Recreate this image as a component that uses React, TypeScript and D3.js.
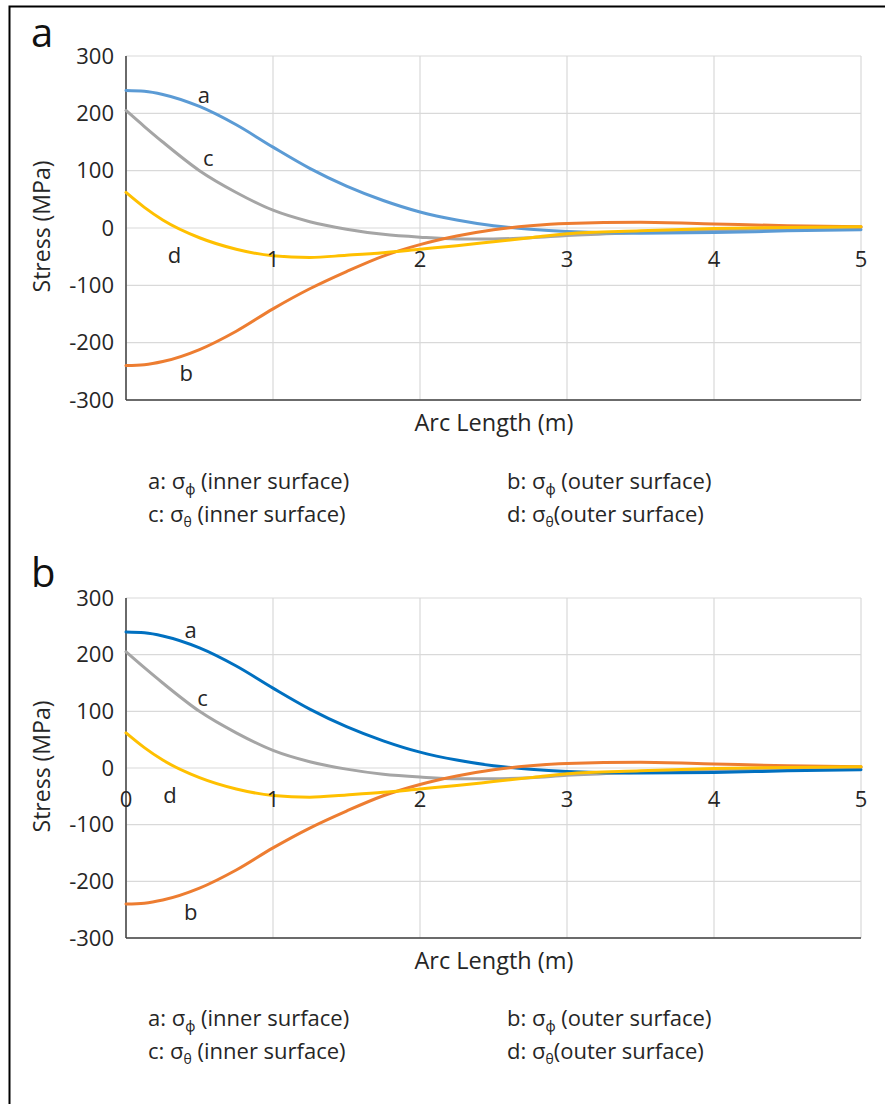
import React from 'react';
import * as d3 from 'd3';

// ---------- data ----------
const arcLength = [0, 0.125, 0.25, 0.5, 0.75, 1, 1.25, 1.5, 1.75, 2, 2.25, 2.5, 2.75, 3, 3.5, 4, 4.5, 5];
const sigmaPhiInner = [240, 238.5, 233, 212, 180, 141, 104, 73, 48, 28, 14, 4, -2, -6, -9, -8, -5, -3]; // a
const sigmaPhiOuter = [-240, -238.5, -233, -212, -180, -141, -106, -76, -49, -29, -14, -3, 4, 8, 10, 7, 4, 2]; // b
const sigmaThetaInner = [205, 177, 150, 100, 62, 31, 11, -2, -11, -16, -19, -19, -17, -13, -8, -4, -1, 1]; // c
const sigmaThetaOuter = [62, 36, 14, -17, -37, -48.5, -51.5, -47.5, -43, -37, -31, -24, -17, -10, -5, -1, 1, 2]; // d

const yTicks = [300, 200, 100, 0, -100, -200, -300];
const xGrid = [0, 1, 2, 3, 4, 5];
const xTickLabelsA = [1, 2, 3, 4, 5];
const xTickLabelsB = [0, 1, 2, 3, 4, 5];

const curveLabelsA = [
  { t: 'a', x: 0.53, y: 232 },
  { t: 'c', x: 0.56, y: 122 },
  { t: 'd', x: 0.33, y: -47 },
  { t: 'b', x: 0.41, y: -254 },
];
const curveLabelsB = [
  { t: 'a', x: 0.44, y: 243 },
  { t: 'c', x: 0.52, y: 123 },
  { t: 'd', x: 0.30, y: -48 },
  { t: 'b', x: 0.44, y: -254 },
];

const legendItems = [
  { key: 'a', sub: 'ϕ', desc: '(inner surface)' },
  { key: 'b', sub: 'ϕ', desc: '(outer surface)' },
  { key: 'c', sub: 'θ', desc: '(inner surface)' },
  { key: 'd', sub: 'θ', desc: '(outer surface)' },
];

const FONT = '"Open Sans", "Noto Sans", sans-serif';
const TXT = '#262626';

type PanelProps = {
  letter: string;
  letterBase: number;
  plotTop: number;
  plotBottom: number;
  blue: string;
  xTickLabels: number[];
  curveLabels: { t: string; x: number; y: number }[];
  titleBase: number;
  legendRow1: number;
  legendRow2: number;
};

function Panel(p: PanelProps) {
  const x = d3.scaleLinear().domain([0, 5]).range([126, 861]);
  const y = d3.scaleLinear().domain([-300, 300]).range([p.plotBottom, p.plotTop]);
  const line = (vals: number[]) =>
    d3
      .line<number>()
      .x((_, i) => x(arcLength[i]))
      .y((v) => y(v))
      .curve(d3.curveMonotoneX)(vals) || '';

  const series = [
    { vals: sigmaThetaInner, color: '#A5A5A5' },
    { vals: sigmaPhiInner, color: p.blue },
    { vals: sigmaPhiOuter, color: '#ED7D31' },
    { vals: sigmaThetaOuter, color: '#FFC000' },
  ];

  const legendPos = [
    { x: 148, y: p.legendRow1 },
    { x: 507, y: p.legendRow1 },
    { x: 148, y: p.legendRow2 },
    { x: 507, y: p.legendRow2 },
  ];

  return (
    <g fontFamily={FONT}>
      <text x={31} y={p.letterBase} fontSize={40} fill="#111">
        {p.letter}
      </text>
      {/* grid */}
      {yTicks.map((t) => (
        <line key={'gy' + t} x1={126} x2={861} y1={y(t)} y2={y(t)} stroke="#d9d9d9" strokeWidth={1.2} />
      ))}
      {xGrid.map((t) => (
        <line key={'gx' + t} x1={x(t)} x2={x(t)} y1={p.plotTop} y2={p.plotBottom} stroke="#d9d9d9" strokeWidth={1.2} />
      ))}
      {/* axes */}
      <line x1={126} x2={126} y1={p.plotTop} y2={p.plotBottom} stroke="#404040" strokeWidth={1.5} />
      <line x1={126} x2={861} y1={p.plotBottom} y2={p.plotBottom} stroke="#404040" strokeWidth={1.5} />
      {/* y tick labels */}
      {yTicks.map((t) => (
        <text key={'ty' + t} x={114} y={y(t)} dy="0.35em" textAnchor="end" fontSize={22} fill={TXT}>
          {t}
        </text>
      ))}
      {/* series */}
      {series.map((s, i) => (
        <path key={i} d={line(s.vals)} fill="none" stroke={s.color} strokeWidth={3} strokeLinecap="round" />
      ))}
      {/* x tick labels near zero line */}
      {p.xTickLabels.map((t) => (
        <text key={'tx' + t} x={x(t)} y={y(0) + 31} dy="0.35em" textAnchor="middle" fontSize={22} fill={TXT}>
          {t}
        </text>
      ))}
      {/* curve labels */}
      {p.curveLabels.map((c) => (
        <text key={'cl' + c.t} x={x(c.x)} y={y(c.y)} dy="0.35em" textAnchor="middle" fontSize={22} fill={TXT}>
          {c.t}
        </text>
      ))}
      {/* axis titles */}
      <text
        transform={`translate(50,${(p.plotTop + p.plotBottom) / 2 - 1.5}) rotate(-90)`}
        textAnchor="middle"
        fontSize={23}
        fill={TXT}
      >
        Stress (MPa)
      </text>
      <text x={494} y={p.titleBase} textAnchor="middle" fontSize={23.5} fill={TXT}>
        Arc Length (m)
      </text>
      {/* legend */}
      {legendItems.map((l, i) => (
        <text key={'lg' + l.key} x={legendPos[i].x} y={legendPos[i].y} dy="0.35em" fontSize={22} fill={TXT}>
          {l.key}: σ
          <tspan fontSize={14} dy={5}>
            {l.sub}
          </tspan>
          <tspan dy={-5}>{(l.key === 'd' ? '' : ' ') + l.desc}</tspan>
        </text>
      ))}
    </g>
  );
}

export default function App() {
  return (
    <svg
      width={885}
      height={1104}
      style={{ position: 'absolute', left: 0, top: 0, background: '#fff' }}
    >
      <rect x={0} y={0} width={885} height={1104} fill="#fff" />
      <path d="M9.5,1104 L9.5,6.5 L885,6.5" fill="none" stroke="#000" strokeWidth={2} />
      <Panel
        letter="a"
        letterBase={47}
        plotTop={56}
        plotBottom={400}
        blue="#5B9BD5"
        xTickLabels={xTickLabelsA}
        curveLabels={curveLabelsA}
        titleBase={431}
        legendRow1={481}
        legendRow2={514}
      />
      <Panel
        letter="b"
        letterBase={587}
        plotTop={598}
        plotBottom={938}
        blue="#0070C0"
        xTickLabels={xTickLabelsB}
        curveLabels={curveLabelsB}
        titleBase={969}
        legendRow1={1018}
        legendRow2={1051}
      />
    </svg>
  );
}
